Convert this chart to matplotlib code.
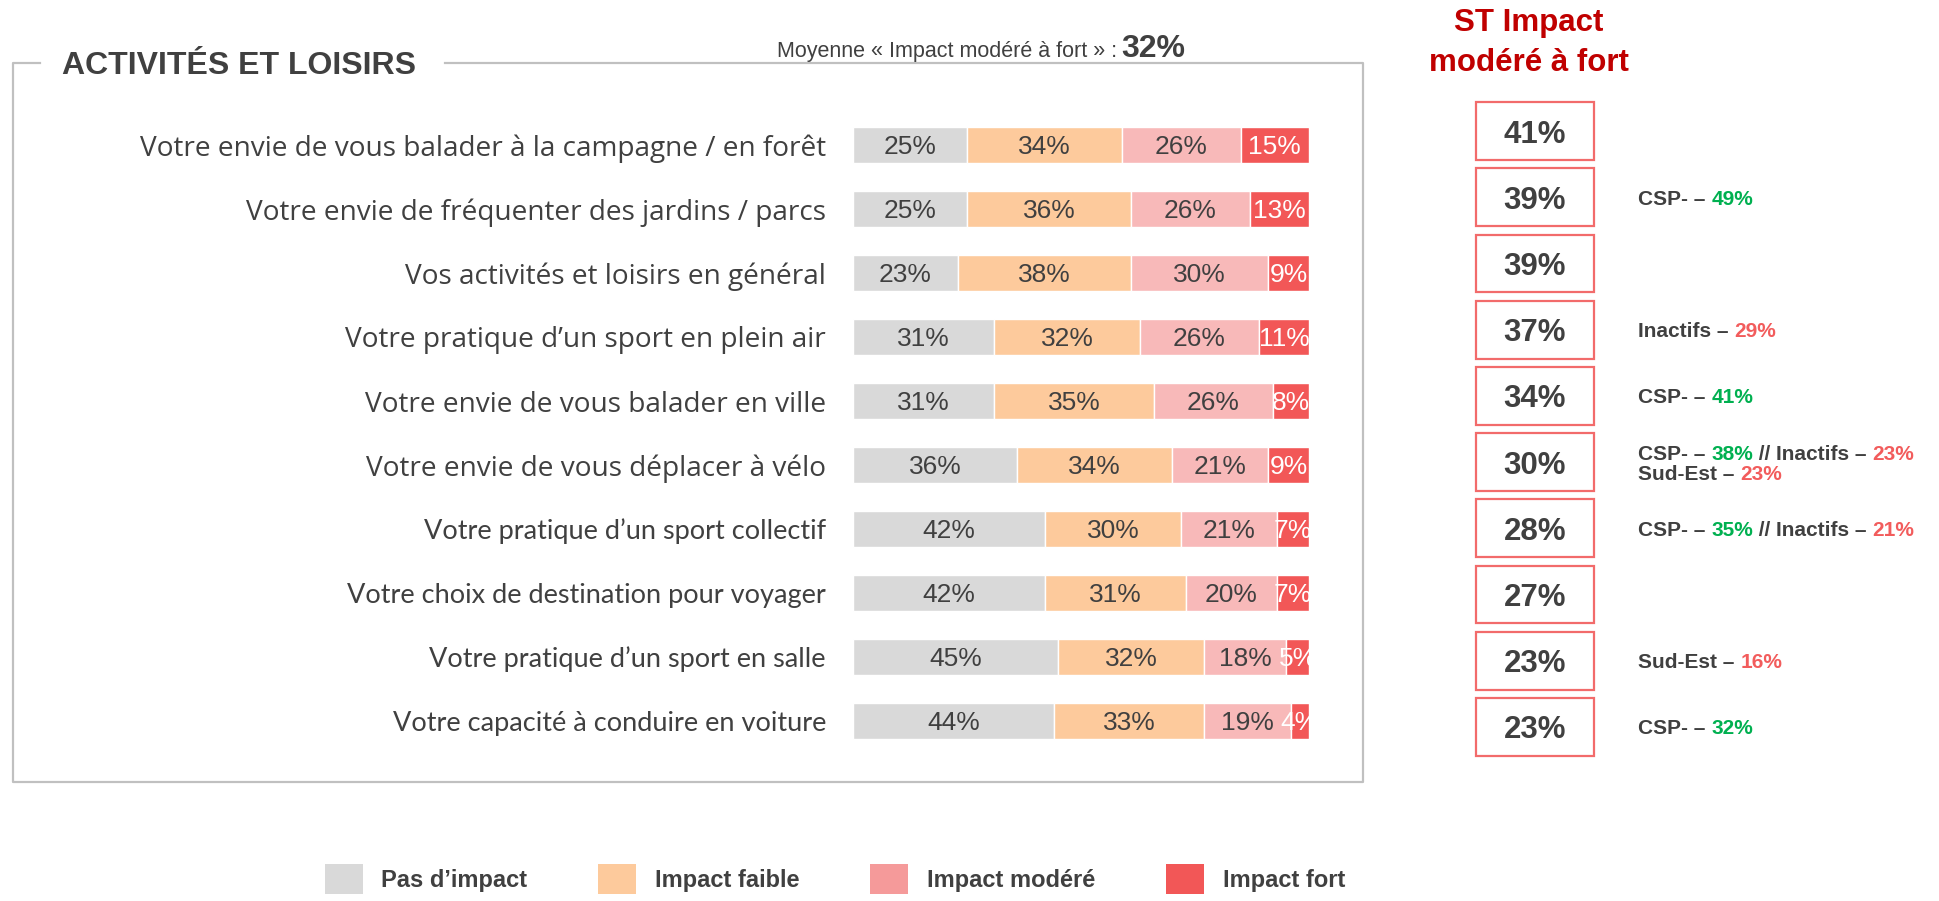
import matplotlib.pyplot as plt
import matplotlib.transforms as mtransforms
from matplotlib.patches import Rectangle, Patch
from matplotlib.lines import Line2D

plt.rcParams['font.family'] = ['Liberation Sans', 'DejaVu Sans']

# Données
categories = [
    "Votre envie de vous balader à la campagne / en forêt",
    "Votre envie de fréquenter des jardins / parcs",
    "Vos activités et loisirs en général",
    "Votre pratique d’un sport en plein air",
    "Votre envie de vous balader en ville",
    "Votre envie de vous déplacer à vélo",
    "Votre pratique d’un sport collectif",
    "Votre choix de destination pour voyager",
    "Votre pratique d’un sport en salle",
    "Votre capacité à conduire en voiture",
]
pas_impact = [25, 25, 23, 31, 31, 36, 42, 42, 45, 44]
impact_faible = [34, 36, 38, 32, 35, 34, 30, 31, 32, 33]
impact_modere = [26, 26, 30, 26, 26, 21, 21, 20, 18, 19]
impact_fort = [15, 13, 9, 11, 8, 9, 7, 7, 5, 4]
series_names = ["Pas d’impact", "Impact faible", "Impact modéré", "Impact fort"]

# sous-populations signalées : une liste de lignes par item, chaque ligne = (texte, couleur)
notes = [
    [],
    [[("CSP- – ", "txt"), ("49%", "vert")]],
    [],
    [[("Inactifs – ", "txt"), ("29%", "rouge")]],
    [[("CSP- – ", "txt"), ("41%", "vert")]],
    [[("CSP- – ", "txt"), ("38%", "vert"), (" // Inactifs – ", "txt"), ("23%", "rouge")],
     [("Sud-Est – ", "txt"), ("23%", "rouge")]],
    [[("CSP- – ", "txt"), ("35%", "vert"), (" // Inactifs – ", "txt"), ("21%", "rouge")]],
    [],
    [[("Sud-Est – ", "txt"), ("16%", "rouge")]],
    [[("CSP- – ", "txt"), ("32%", "vert")]],
]

bar_colors = ['#D9D9D9', '#FDCA9C', '#F8B9B9', '#F25757']
legend_colors = ['#D9D9D9', '#FDCA9C', '#F59A9A', '#F25757']
note_colors = {'txt': '#404040', 'vert': '#00B050', 'rouge': '#F25C5C'}
dark = '#404040'
# le document d'origine mélange deux polices dans les libellés
label_fonts = [('Open Sans', 20.2)] * 6 + [('Lato', 19.5)] * 4

# ST impact modéré à fort + moyenne
st_values = [m + f for m, f in zip(impact_modere, impact_fort)]
moyenne = round(sum(st_values) / len(st_values))

W, H = 1939, 901
fig = plt.figure(figsize=(W / 100, H / 100), dpi=100)


def fx(px):
    return px / W


def fy(py):
    return 1 - py / H


# --- barres empilées
ax = fig.add_axes([fx(853), fy(753), (1309 - 853) / W, 640 / H])
n = len(categories)
rows = list(range(n))
left = [0] * n
series = [pas_impact, impact_faible, impact_modere, impact_fort]
for k, (vals, col) in enumerate(zip(series, bar_colors)):
    ax.barh(rows, vals, left=left, height=0.5625, color=col,
            edgecolor='white', linewidth=1)
    for i, v in enumerate(vals):
        ax.text(left[i] + v / 2, i, f"{v}%", ha='center', va='center_baseline',
                fontsize=19, color='white' if k == 3 else dark)
    left = [a + b for a, b in zip(left, vals)]

ax.set_xlim(0, 100)
ax.set_ylim(n - 0.5, -0.5)
ax.set_xticks([])
ax.set_yticks(rows, categories, color=dark)
for lab, (fam, size) in zip(ax.get_yticklabels(), label_fonts):
    lab.set_fontfamily(fam)
    lab.set_fontsize(size)
ax.tick_params(axis='y', length=0, pad=19.5)
for s in ax.spines.values():
    s.set_visible(False)

# --- colonne ST
ax2 = fig.add_axes([fx(1476), fy(760), 118 / W, 662 / H])
ax2.set_xlim(0, 1)
ax2.set_ylim(n - 0.5, -0.5)
ax2.axis('off')
for i, v in enumerate(st_values):
    ax2.add_patch(Rectangle((0, i - 0.438), 1, 0.876, fill=False,
                            edgecolor='#F26B6B', linewidth=1.6, clip_on=False))
    ax2.text(0.5, i, f"{v}%", ha='center', va='center_baseline', fontsize=22.5,
             fontweight='bold', color=dark)

trans = mtransforms.blended_transform_factory(ax2.transAxes, ax2.transData)
x_note = (1638 - 1476) / 118
for i, lines in enumerate(notes):
    nl = len(lines)
    for k, line in enumerate(lines):
        yy = i + (k - (nl - 1) / 2) * 0.3
        prev = None
        for txt, ck in line:
            if prev is None:
                prev = ax2.text(x_note, yy, txt, transform=trans, ha='left',
                                va='center_baseline', fontsize=15, fontweight='bold',
                                color=note_colors[ck])
            else:
                prev = ax2.annotate(txt, xy=(1, 0), xycoords=prev, ha='left', va='bottom',
                                    fontsize=15, fontweight='bold', color=note_colors[ck])

fig.text(fx(1529), fy(43), "ST Impact\nmodéré à fort", ha='center', va='center',
         fontsize=22.5, fontweight='bold', color='#C00000', linespacing=1.42)

# --- cadre et titres
frame_kw = dict(color='#C0C0C0', linewidth=1.6, transform=fig.transFigure)
fig.add_artist(Line2D([fx(445), fx(1363), fx(1363), fx(13), fx(13), fx(40)],
                      [fy(63), fy(63), fy(782), fy(782), fy(63), fy(63)], **frame_kw))
fig.text(fx(62), fy(62), "ACTIVITÉS ET LOISIRS", ha='left', va='center_baseline',
         fontsize=23, fontweight='bold', color=dark)
fig.text(fx(1185), fy(57), f"{moyenne}%", ha='right', va='baseline',
         fontsize=23, fontweight='bold', color=dark)
fig.text(fx(1117), fy(57), "Moyenne « Impact modéré à fort » :", ha='right', va='baseline',
         fontsize=15.5, color=dark)

# --- légende
handles = [Patch(facecolor=c, edgecolor='none', label=s)
           for c, s in zip(legend_colors, series_names)]
fig.legend(handles=handles, loc='center', bbox_to_anchor=(fx(835), fy(879)), ncol=4,
           frameon=False, prop={'size': 17, 'weight': 'bold'}, labelcolor=dark,
           handlelength=1.6, handleheight=1.57, handletextpad=0.8, columnspacing=3.0)

fig.savefig('out.png', dpi=100)
